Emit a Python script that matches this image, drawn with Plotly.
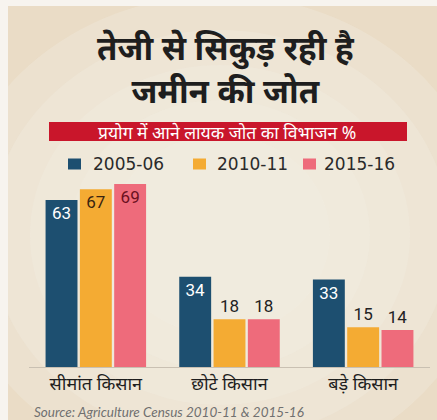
import plotly.graph_objects as go

categories = ["सीमांत किसान", "छोटे किसान", "बड़े किसान"]
years = ["2005-06", "2010-11", "2015-16"]
v2005 = [63, 34, 33]
v2010 = [67, 18, 15]
v2015 = [69, 18, 14]

colors = ["#1d4f70", "#f4ab33", "#ee6b7b"]
series = [v2005, v2010, v2015]
# label placement per bar (styling)
positions = [["inside", "inside", "inside"],
             ["inside", "outside", "outside"],
             ["inside", "outside", "outside"]]
label_colors = [["#ffffff", "#ffffff", "#ffffff"],
                ["#3a2410", "#222222", "#222222"],
                ["#6b1020", "#222222", "#222222"]]

NUMFONT = "Liberation Sans Narrow, Roboto, sans-serif"
fig = go.Figure()
for name, vals, col, pos, lc in zip(years, series, colors, positions, label_colors):
    fig.add_trace(go.Bar(
        x=categories, y=vals, name=name, marker_color=col,
        marker_line_width=0,
        text=[str(v) for v in vals], textposition=pos,
        insidetextanchor="end",
        textfont=dict(family=NUMFONT, size=17, color=lc),
        outsidetextfont=dict(family=NUMFONT, size=17, color="#222222"),
        insidetextfont=dict(family=NUMFONT, size=17, color=lc),
        cliponaxis=False, showlegend=False,
    ))

# plot area: x 29..430 px, y 170..367 px
PW, PH = 401, 197
def px(xp):
    return (xp - 29) / PW
def py(yp):
    return (367 - yp) / PH

fig.update_layout(
    width=437, height=420,
    margin=dict(l=29, r=7, t=170, b=53, autoexpand=False),
    paper_bgcolor="#eadcc6", plot_bgcolor="rgba(0,0,0,0)",
    barmode="group", bargap=0.23, bargroupgap=0.07,
    showlegend=False,
    xaxis=dict(showline=True, linecolor="#c9c0b2", linewidth=1, ticks="", showgrid=False,
               tickfont=dict(family="Noto Sans, sans-serif", size=18, color="#1e1e1e")),
    yaxis=dict(range=[0, 74.3], visible=False, showgrid=False),
    font=dict(family="Noto Sans, sans-serif"),
)

# soft lighter centre (pseudo radial gradient)
for rx, ry in [(270, 240), (230, 205), (190, 170), (150, 135), (110, 100)]:
    cx, cy = 220, 235
    fig.add_shape(type="circle", xref="paper", yref="paper",
                  x0=px(cx - rx), x1=px(cx + rx), y0=py(cy + ry), y1=py(cy - ry),
                  fillcolor="#f2eee6", opacity=0.3, line_width=0, layer="below")

# white frame edges
fig.add_shape(type="rect", xref="paper", yref="paper", x0=px(0), x1=px(8), y0=py(420), y1=py(0),
              fillcolor="#f7f4ef", line_width=0, layer="below")
fig.add_shape(type="rect", xref="paper", yref="paper", x0=px(0), x1=px(437), y0=py(6), y1=py(0),
              fillcolor="#f7f4ef", line_width=0, layer="below")

# custom legend row
legend_square_x = [68, 193, 303]
legend_text_x = [92, 216, 323]
LEG_Y = 164
for yr, col, sx, tx in zip(years, colors, legend_square_x, legend_text_x):
    fig.add_shape(type="rect", xref="paper", yref="paper",
                  x0=px(sx), x1=px(sx + 13), y0=py(LEG_Y + 5.5), y1=py(LEG_Y - 5.5),
                  fillcolor=col, line_width=0)
    fig.add_annotation(text=yr, xref="paper", yref="paper", x=px(tx), y=py(LEG_Y),
                       xanchor="left", yanchor="middle", showarrow=False,
                       xshift=-1,
                       font=dict(family="DejaVu Sans, sans-serif", size=17, color="#2a2a2a"))

# title
fig.add_annotation(text="<b>तेजी से सिकुड़ रही है<br>जमीन की जोत</b>", xref="paper", yref="paper",
                   x=px(226), y=py(69), xanchor="center", yanchor="middle", showarrow=False,
                   font=dict(family="Noto Sans, sans-serif", size=33, color="#1e1e1e"))
# red banner
fig.add_shape(type="rect", xref="paper", yref="paper",
              x0=px(49), x1=px(407), y0=py(141), y1=py(122),
              fillcolor="#c9162b", line_width=0)
fig.add_annotation(text="प्रयोग में आने लायक जोत का विभाजन %", xref="paper", yref="paper",
                   x=px(227), y=py(131.5), xanchor="center", yanchor="middle", showarrow=False,
                   font=dict(family="Noto Sans, sans-serif", size=17.5, color="#ffffff"))
# source
fig.add_annotation(text="<i>Source: Agriculture Census 2010-11 & 2015-16</i>", xref="paper", yref="paper",
                   x=px(32), y=py(412), xanchor="left", yanchor="middle", showarrow=False,
                   font=dict(family="Lato, sans-serif", size=13.5, color="#707070"))

fig.write_html("out.html")
